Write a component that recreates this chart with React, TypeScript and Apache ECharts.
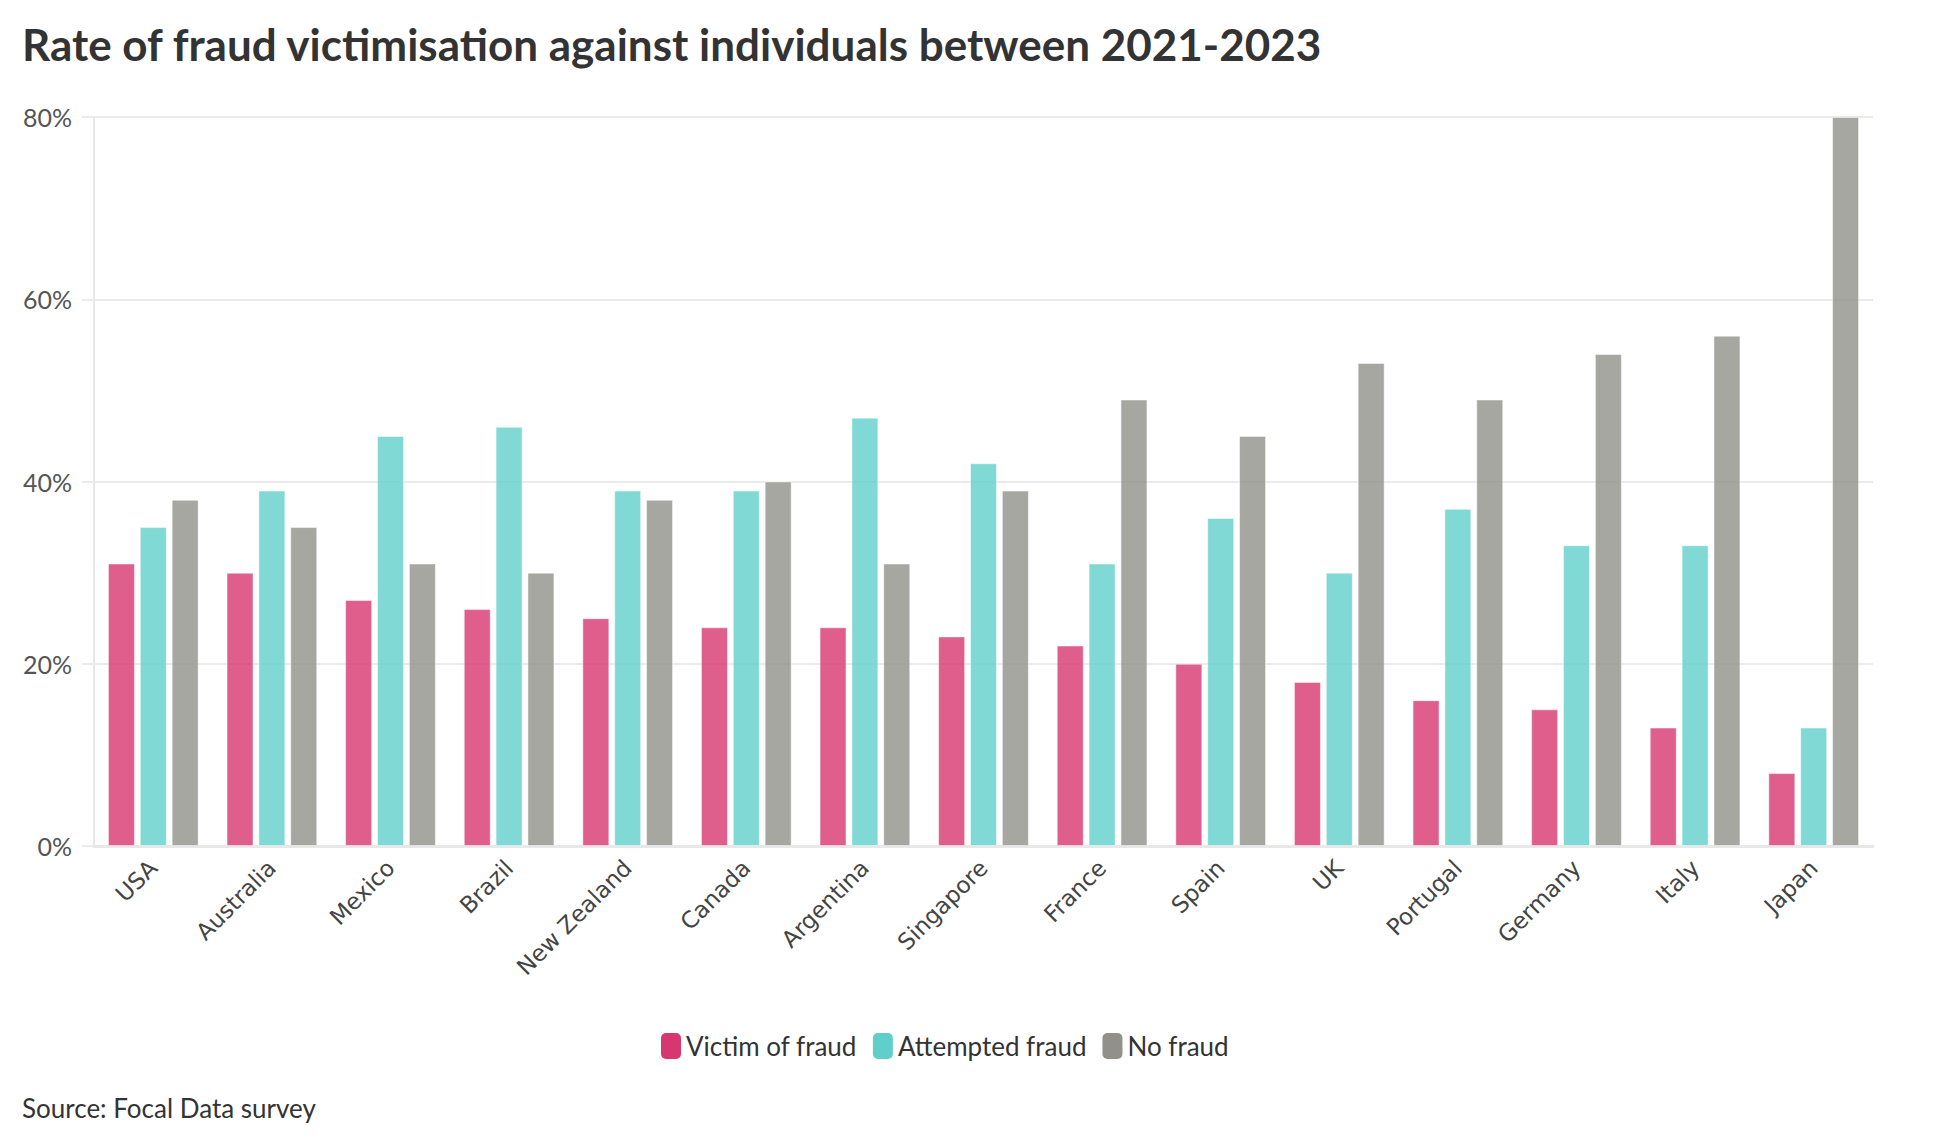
import React, { useEffect, useRef } from 'react';
import * as echarts from 'echarts';

const countries = [
  'USA', 'Australia', 'Mexico', 'Brazil', 'New Zealand', 'Canada', 'Argentina',
  'Singapore', 'France', 'Spain', 'UK', 'Portugal', 'Germany', 'Italy', 'Japan',
];
const victimOfFraud = [31, 30, 27, 26, 25, 24, 24, 23, 22, 20, 18, 16, 15, 13, 8];
const attemptedFraud = [35, 39, 45, 46, 39, 39, 47, 42, 31, 36, 30, 37, 33, 33, 13];
const noFraud = [38, 35, 31, 30, 38, 40, 31, 39, 49, 45, 53, 49, 54, 56, 80];

const seriesNames = ['Victim of fraud', 'Attempted fraud', 'No fraud'];
const seriesColors = ['#d7366f', '#60cfc9', '#91918a'];

const FONT = 'Lato, "Noto Sans", sans-serif';

const App: React.FC = () => {
  const chartRef = useRef<HTMLDivElement>(null);

  useEffect(() => {
    if (!chartRef.current) return;
    const chart = echarts.init(chartRef.current, null, { renderer: 'svg' });

    const values = [victimOfFraud, attemptedFraud, noFraud];

    const option = {
      animation: false,
      backgroundColor: '#ffffff',
      title: [
        {
          text: 'Rate of fraud victimisation against individuals between 2021-2023',
          left: 22,
          top: 22,
          padding: 0,
          textStyle: { fontFamily: FONT, fontWeight: 'bold', fontSize: 44, color: '#333333' },
        },
        {
          text: 'Source: Focal Data survey',
          left: 22,
          top: 1095,
          padding: 0,
          textStyle: { fontFamily: FONT, fontWeight: 'normal', fontSize: 26, color: '#333333' },
        },
      ],
      legend: {
        left: 661,
        top: 1033,
        padding: 0,
        itemWidth: 20,
        itemHeight: 26,
        itemGap: 16,
        icon: 'roundRect',
        data: seriesNames.map((name, i) => ({
          name,
          itemStyle: { color: seriesColors[i], opacity: 1, borderWidth: 0 },
        })),
        textStyle: { fontFamily: FONT, fontSize: 26, color: '#333333' },
      },
      grid: { left: 94, right: 83, top: 117, bottom: 296 },
      xAxis: {
        type: 'category',
        data: countries,
        axisLine: { lineStyle: { color: '#e8e8e8', width: 3 } },
        axisTick: { alignWithLabel: true, length: 12, lineStyle: { color: '#e8e8e8', width: 3 } },
        axisLabel: {
          rotate: 45,
          margin: 18,
          fontFamily: '"DejaVu Sans", sans-serif',
          fontSize: 23,
          color: '#444444',
        },
      },
      yAxis: {
        type: 'value',
        min: 0,
        max: 80,
        interval: 20,
        axisLine: { show: true, lineStyle: { color: '#e8e8e8', width: 2 } },
        axisTick: { show: true, length: 12, lineStyle: { color: '#ebebeb', width: 2 } },
        splitLine: { lineStyle: { color: '#ebebeb', width: 2 } },
        axisLabel: {
          formatter: '{value}%',
          margin: 22,
          fontFamily: FONT,
          fontSize: 25,
          color: '#555555',
        },
      },
      series: seriesNames.map((name, i) => ({
        name,
        type: 'bar',
        data: values[i],
        barWidth: 27,
        barGap: '18%',
        itemStyle: {
          color: seriesColors[i],
          opacity: 0.8,
          borderColor: 'rgba(255,255,255,0.6)',
          borderWidth: 1,
        },
        emphasis: { disabled: true },
      })),
    };

    chart.setOption(option);
    return () => chart.dispose();
  }, []);

  return (
    <div
      ref={chartRef}
      style={{ position: 'absolute', left: 0, top: 0, width: '1956px', height: '1142px' }}
    />
  );
};

export default App;
